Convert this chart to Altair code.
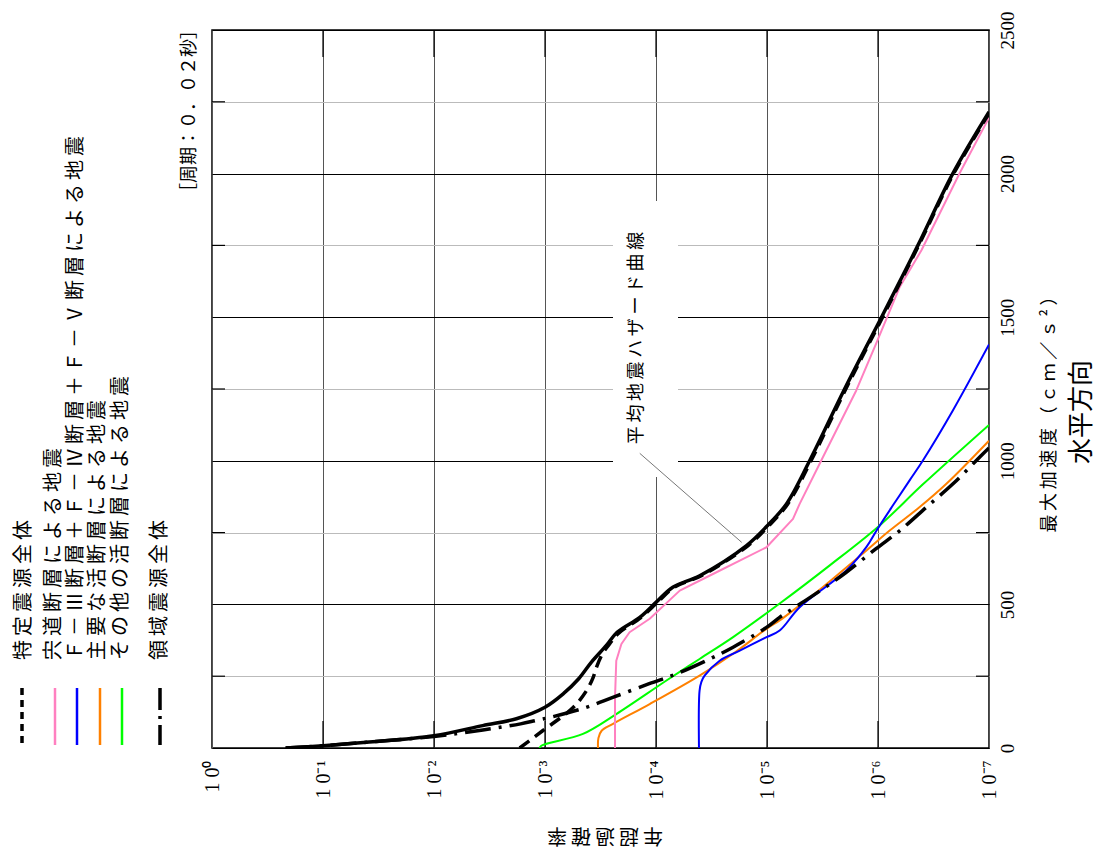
import altair as alt
import pandas as pd

# ---- data (PGA in cm/s^2, annual exceedance probability) ----
total_pga = [0, 8, 20, 43, 78, 102, 142, 190, 241, 300, 357, 403, 455, 507, 560, 600, 705, 771, 850, 1001, 1250, 1500, 1750, 2000, 2215]
total_p = [2.17e-1, 1.0e-1, 4.06e-2, 1.0e-2, 3.64e-3, 1.81e-3, 1.0e-3, 6.79e-4, 4.97e-4, 3.80e-4, 2.80e-4, 2.24e-4, 1.40e-4, 1.0e-4,
           7.06e-5, 4.04e-5, 1.53e-5, 1.01e-5, 6.68e-6, 4.12e-6, 2.0e-6, 9.3e-7, 4.37e-7, 2.12e-7, 1.0e-7]

tokutei_pga = [0, 60, 141, 200, 246, 281, 330, 363, 400, 455, 507, 560, 600, 705, 771, 850, 1001, 1250, 1500, 1750, 2000, 2210]
tokutei_p = [1.69e-3, 1.05e-3, 5.58e-4, 4.22e-4, 3.68e-4, 3.44e-4, 3.02e-4, 2.61e-4, 2.17e-4, 1.36e-4, 9.7e-5, 6.85e-5, 3.9e-5,
             1.48e-5, 9.8e-6, 6.5e-6, 4.0e-6, 1.95e-6, 9.1e-7, 4.3e-7, 2.08e-7, 1.0e-7]

ryoiki_pga = [0, 8, 20, 40, 63, 84, 96, 107, 141, 176, 224, 258, 310, 351, 420, 455, 485, 554, 612, 694, 757, 839, 920, 1001, 1045]
ryoiki_p = [2.17e-1, 1.0e-1, 4.07e-2, 1.0e-2, 3.63e-3, 1.66e-3, 1.20e-3, 8.91e-4, 4.27e-4, 2.45e-4, 1.15e-4, 6.55e-5, 3.28e-5,
            2.02e-5, 1.01e-5, 7.69e-6, 5.85e-6, 3.14e-6, 1.93e-6, 1.04e-6, 6.35e-7, 3.65e-7, 2.11e-7, 1.30e-7, 1.0e-7]

shinji_pga = [0, 176, 304, 362, 403, 450, 548, 605, 699, 798, 850, 1013, 1245, 1408, 1605, 1733, 2001, 2195]
shinji_p = [2.34e-4, 2.34e-4, 2.28e-4, 2.05e-4, 1.73e-4, 1.14e-4, 6.11e-5, 3.1e-5, 1.01e-5, 5.83e-6, 5.08e-6, 3.13e-6, 1.57e-6,
            1.04e-6, 6.38e-7, 4.06e-7, 1.84e-7, 1.0e-7]

f_pga = [0, 200, 230, 252, 304, 339, 386, 409, 490, 618, 700, 760, 845, 932, 1001, 1176, 1405]
f_p = [4.10e-5, 4.05e-5, 3.9e-5, 3.65e-5, 2.67e-5, 1.76e-5, 1.01e-5, 7.69e-6, 5.08e-6, 1.93e-6, 1.27e-6, 1.02e-6, 7.33e-7,
       5.19e-7, 3.94e-7, 2.11e-7, 1.0e-7]

major_pga = [0, 35, 60, 84, 153, 252, 328, 415, 444, 479, 560, 688, 757, 839, 920, 1070]
major_p = [3.33e-4, 3.30e-4, 3.09e-4, 2.44e-4, 1.14e-4, 4.05e-5, 2.02e-5, 1.01e-5, 7.69e-6, 5.83e-6, 3.15e-6, 1.27e-6, 7.85e-7,
           4.21e-7, 2.42e-7, 1.0e-7]

other_pga = [0, 8, 49, 118, 235, 310, 386, 503, 636, 775, 918, 1125]
other_p = [1.12e-3, 1.08e-3, 4.55e-4, 2.28e-4, 8.05e-5, 4.05e-5, 2.02e-5, 7.69e-6, 2.72e-6, 9.66e-7, 3.94e-7, 1.0e-7]

decades = [1, 1e-1, 1e-2, 1e-3, 1e-4, 1e-5, 1e-6, 1e-7]
decade_labels = ["1 0⁰", "1 0⁻¹", "1 0⁻²", "1 0⁻³", "1 0⁻⁴", "1 0⁻⁵", "1 0⁻⁶", "1 0⁻⁷"]
pga_ticks = [0, 250, 500, 750, 1000, 1250, 1500, 1750, 2000, 2250, 2500]
pga_minor = [250, 750, 1250, 1750, 2250]

legend_names = ["特定震源全体", "宍道断層による地震", "Ｆ－Ⅲ断層＋Ｆ－Ⅳ断層＋Ｆ－Ⅴ断層による地震",
                "主要な活断層による地震", "その他の活断層による地震", "領域震源全体"]

leader_p = [1.40e-4, 1.69e-5]
leader_pga = [1026, 716]

W, H = 777, 718
JP = "Noto Sans CJK JP"
NUM = "Liberation Serif"
SP = "\u2009"


def spaced(s):
    return SP.join(list(s))


xscale = alt.Scale(type="log", domain=[1e-7, 1], reverse=True, nice=False)
yscale = alt.Scale(domain=[0, 2500], nice=False, zero=True)

label_expr = "[" + ",".join("'%s'" % s for s in decade_labels) + "][round(-log(datum.value)/LN10)]"

xaxis = alt.Axis(values=decades, labelExpr=label_expr, title=None, grid=True, gridColor="#555555", gridWidth=1,
                 labelAngle=270, labelAlign="right", labelBaseline="middle", labelPadding=12, labelFlush=False,
                 labelOverlap=False, labelFont=NUM, labelFontSize=20, labelColor="black", ticks=False, domain=False)
yaxis = alt.Axis(values=pga_ticks, orient="right", title=None, grid=True,
                 gridColor={"condition": {"test": "datum.value % 500 === 0", "value": "#000000"}, "value": "#bbbbbb"},
                 gridWidth=1,
                 labelExpr="datum.value % 500 === 0 ? datum.label : ''", labelAngle=270, labelAlign="center",
                 labelBaseline="top", labelPadding=9, labelFont=NUM, labelFontSize=19, labelColor="black",
                 labelOverlap=False, labelFlush=False, ticks=False, domain=False, format="d")

X = alt.X("p:Q", scale=xscale, axis=xaxis)
Y = alt.Y("pga:Q", scale=yscale, axis=yaxis)


def curve(pga, p, color, width, dash=None, interp="catmull-rom"):
    df = pd.DataFrame({"pga": pga, "p": p})
    kw = dict(color=color, strokeWidth=width, clip=True, strokeCap="butt", strokeJoin="round", interpolate=interp)
    if dash:
        kw["strokeDash"] = dash
    return alt.Chart(df).mark_line(**kw).encode(x=X, y=Y, order=alt.Order("pga:Q"))


one = pd.DataFrame({"d": [0]})


def txt(s, x, y, size, angle=270, align="left", font=JP, baseline="middle"):
    return alt.Chart(pd.DataFrame({"t": [s]})).mark_text(
        text=s, angle=angle, align=align, baseline=baseline, font=font, fontSize=size, color="black"
    ).encode(x=alt.value(x), y=alt.value(y))


def vrule(x, y1, y2, color, width, dash=None):
    kw = dict(color=color, strokeWidth=width, strokeCap="butt")
    if dash:
        kw["strokeDash"] = dash
    return alt.Chart(one).mark_rule(**kw).encode(x=alt.value(x), y=alt.value(y1), y2=alt.value(y2))


dec_df = pd.DataFrame({"p": decades[1:-1]})
minor_df = pd.DataFrame({"pga": pga_minor})

layers = []
# inner tick marks
layers.append(alt.Chart(dec_df).mark_rule(color="black", strokeWidth=1.2).encode(x=X, y=alt.value(0), y2=alt.value(27)))
layers.append(alt.Chart(dec_df).mark_rule(color="black", strokeWidth=1.2).encode(x=X, y=alt.value(H), y2=alt.value(H - 27)))
layers.append(alt.Chart(minor_df).mark_rule(color="black", strokeWidth=1.2).encode(y=Y, x=alt.value(0), x2=alt.value(13)))
layers.append(alt.Chart(minor_df).mark_rule(color="black", strokeWidth=1.2).encode(y=Y, x=alt.value(W), x2=alt.value(W - 13)))

# white box behind the annotation
layers.append(alt.Chart(one).mark_rect(color="white", opacity=1).encode(
    x=alt.value(401), x2=alt.value(466), y=alt.value(171), y2=alt.value(447)))

# curves (colored below, black on top)
layers.append(curve(other_pga, other_p, "#00ff00", 2))
layers.append(curve(major_pga, major_p, "#ff8000", 2))
layers.append(curve(f_pga, f_p, "#0000ff", 2))
layers.append(curve(shinji_pga, shinji_p, "#ff80c0", 2, interp="linear"))
layers.append(curve(ryoiki_pga, ryoiki_p, "black", 3.5, [26, 8, 3, 8]))
layers.append(curve(tokutei_pga, tokutei_p, "black", 3.5, [12, 7]))
layers.append(curve(total_pga, total_p, "black", 3.5))

# leader line for the annotation
lead_df = pd.DataFrame({"p": [leader_p[0]], "p2": [leader_p[1]], "pga": [leader_pga[0]], "pga2": [leader_pga[1]]})
layers.append(alt.Chart(lead_df).mark_rule(color="#777777", strokeWidth=1).encode(
    x=X, x2="p2:Q", y=Y, y2="pga2:Q"))
layers.append(txt(spaced("平均地震ハザード曲線"), 425, 308, 18, align="center"))

# legend (rotated)
leg_text_x = [-188, -158, -136, -114, -91, -52]
for name, lx in zip(legend_names, leg_text_x):
    layers.append(txt(spaced(name), lx, 630, 20, align="left"))
layers.append(vrule(-190, 658, 715, "black", 3.5, [7, 5]))
layers.append(vrule(-157, 658, 715, "#ff80c0", 2.5))
layers.append(vrule(-135, 658, 715, "#0000ff", 2.5))
layers.append(vrule(-112, 658, 715, "#ff8000", 2.5))
layers.append(vrule(-90, 658, 715, "#00ff00", 2.5))
layers.append(vrule(-52, 658, 715, "black", 3.5, [22, 6, 3, 6]))

# titles
layers.append(txt("［周期：０．０２秒］", -22, -9, 18, align="right"))
layers.append(txt(spaced("年超過確率"), 393, 805, 20, angle=180, align="center"))
layers.append(txt(spaced("最大加速度（ｃｍ／ｓ²）"), 838, 380, 18, align="center"))
layers.append(txt("水平方向", 870, 382, 26, align="center"))

chart = alt.layer(*layers).properties(
    width=W, height=H,
    autosize=alt.AutoSizeParams(type="none"),
    padding={"left": 204, "top": 22, "right": 113, "bottom": 103},
    background="white",
).configure_view(stroke="black", strokeWidth=1.5)

chart.save("out.html", embed_options={"renderer": "svg", "actions": False})
